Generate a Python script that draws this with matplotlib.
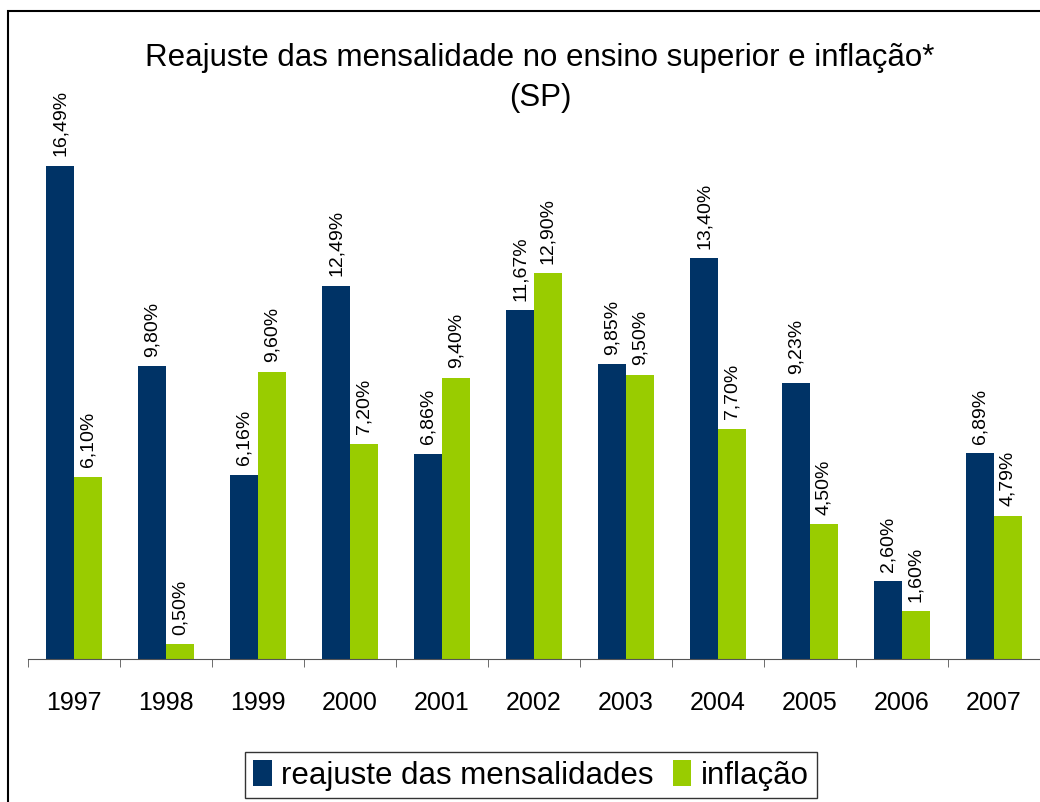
import numpy as np
import matplotlib.pyplot as plt
from matplotlib.patches import Rectangle

plt.rcParams['font.family'] = ['Liberation Sans', 'DejaVu Sans']

anos = ['1997', '1998', '1999', '2000', '2001', '2002', '2003', '2004', '2005', '2006', '2007']
reajuste = [16.49, 9.80, 6.16, 12.49, 6.86, 11.67, 9.85, 13.40, 9.23, 2.60, 6.89]
inflacao = [6.10, 0.50, 9.60, 7.20, 9.40, 12.90, 9.50, 7.70, 4.50, 1.60, 4.79]

W, H = 1040, 803
fig = plt.figure(figsize=(W / 100, H / 100), dpi=100)
# axes in pixel terms: baseline at y=660, ~30 px per percentage point
ymax = 18.0
ax = fig.add_axes([28 / W, (H - 660) / H, 1012 / W, 29.9 * ymax / H])

x = np.arange(len(anos))
w = 0.30
b1 = ax.bar(x - w / 2, reajuste, w, color='#003366', label='reajuste das mensalidades')
b2 = ax.bar(x + w / 2, inflacao, w, color='#99CC00', label='inflação')

def fmt(v):
    return f'{v:.2f}'.replace('.', ',') + '%'

for bars, vals in ((b1, reajuste), (b2, inflacao)):
    for r, v in zip(bars, vals):
        ax.text(r.get_x() + r.get_width() / 2, v + 0.35, fmt(v), rotation=90,
                ha='center', va='bottom', fontsize=14)

ax.set_xlim(-0.5, len(anos) - 0.5)
ax.set_ylim(0, ymax)
ax.set_yticks([])
for s in ('top', 'right', 'left'):
    ax.spines[s].set_visible(False)
ax.spines['bottom'].set_color('#555555')
ax.set_xticks(np.arange(len(anos) + 1) - 0.5, minor=True)
ax.set_xticks(x)
ax.set_xticklabels(anos, fontsize=18)
ax.tick_params(axis='x', which='major', length=0, pad=22)
ax.tick_params(axis='x', which='minor', length=6, color='#555555')

fig.text(540 / W, 1 - 58 / H, 'Reajuste das mensalidade no ensino superior e inflação*',
         ha='center', va='center', fontsize=22.5)
fig.text(540 / W, 1 - 98 / H, '(SP)', ha='center', va='center', fontsize=22.5)

leg = fig.legend(handles=[b1, b2], loc='center', bbox_to_anchor=(531 / W, 1 - 776 / H),
                 ncol=2, fontsize=22.5, frameon=True, fancybox=False, handlelength=0.6,
                 handleheight=0.9, handletextpad=0.3, columnspacing=0.6, borderpad=0.25)
leg.get_frame().set_edgecolor('black')
leg.get_frame().set_linewidth(1.0)

fig.patches.append(Rectangle((8 / W, -0.05), 1.1, 1 - 12 / H + 0.05, transform=fig.transFigure,
                             fill=False, edgecolor='black', linewidth=1.5))

fig.savefig('out.png', dpi=100)
